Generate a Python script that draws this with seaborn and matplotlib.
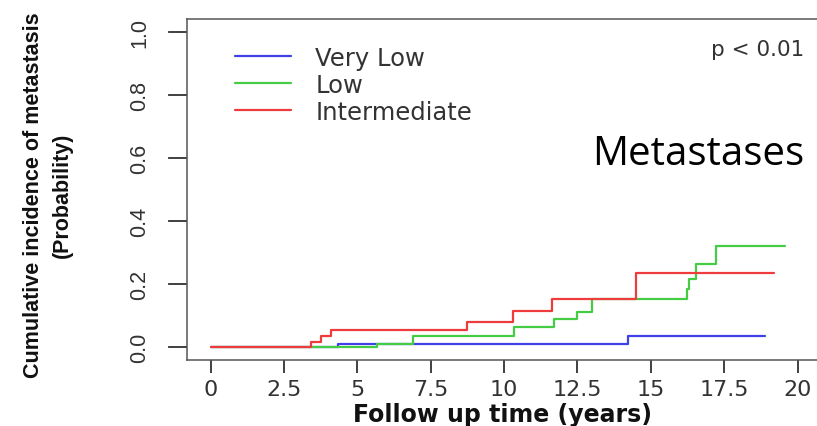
import numpy as np
import pandas as pd
import matplotlib
matplotlib.use("Agg")
import matplotlib.pyplot as plt
import seaborn as sns

# ---- data ----
groups = ["Very Low", "Low", "Intermediate"]
colors = ["#4040e8", "#44cc44", "#ee3b3b"]

very_low_time = [0, 4.34, 14.23, 18.89]
very_low_prob = [0, 0.009, 0.034, 0.034]

low_time = [0, 5.68, 6.90, 10.34, 11.69, 12.47, 12.98, 16.22, 16.30, 16.54, 17.22, 19.57]
low_prob = [0, 0.009, 0.034, 0.065, 0.089, 0.110, 0.152, 0.184, 0.215, 0.263, 0.319, 0.319]

inter_time = [0, 3.40, 3.75, 4.11, 8.72, 10.31, 11.64, 14.48, 19.20]
inter_prob = [0, 0.017, 0.036, 0.055, 0.080, 0.115, 0.154, 0.235, 0.235]

x_ticks = [0, 2.5, 5, 7.5, 10, 12.5, 15, 17.5, 20]
x_tick_labels = ["0", "2.5", "5", "7.5", "10", "12.5", "15", "17.5", "20"]
y_ticks = [0.0, 0.2, 0.4, 0.6, 0.8, 1.0]
y_tick_labels = ["0.0", "0.2", "0.4", "0.6", "0.8", "1.0"]

x_label = "Follow up time (years)"
y_label = "Cumulative incidence of metastasis\n(Probability)"
p_text = "p < 0.01"
panel_text = "Metastases"

df = pd.concat([
    pd.DataFrame({"time": very_low_time, "prob": very_low_prob, "group": "Very Low"}),
    pd.DataFrame({"time": low_time, "prob": low_prob, "group": "Low"}),
    pd.DataFrame({"time": inter_time, "prob": inter_prob, "group": "Intermediate"}),
], ignore_index=True)

sns.set_style("ticks")
plt.rcParams["font.family"] = ["DejaVu Sans"]

W, H = 817, 427
fig = plt.figure(figsize=(W / 100, H / 100), dpi=100)
fig.patch.set_facecolor("white")
ax_w_px, ax_h_px = 633.7, 340.7
ax = fig.add_axes([187.3 / W, (H - 360.7) / H, ax_w_px / W, ax_h_px / H])

sns.lineplot(data=df, x="time", y="prob", hue="group", hue_order=groups,
             palette=colors, drawstyle="steps-post", estimator=None,
             linewidth=1.6, ax=ax, legend=True)

ax.set_xlim(-0.8, 20.8)
ax.set_ylim(-0.04, 1.04)

ax.set_xticks(x_ticks)
ax.set_xticklabels(x_tick_labels, fontsize=16, color="#333333")
ax.set_yticks(y_ticks)
ax.set_yticklabels(y_tick_labels, fontsize=15.5, color="#333333",
                   family="Liberation Sans", rotation=90, va="center")

x_len_pt, y_len_pt = 9.4, 13.5
ax.tick_params(axis="x", which="major", direction="out", length=x_len_pt, width=1.3,
               color="#444444", pad=4.5, bottom=True, top=False)
ax.tick_params(axis="y", which="major", direction="out", length=y_len_pt, width=1.3,
               color="#444444", pad=13, left=True, right=False)

# explicit outward tick marks along the axes (same positions as the ticks)
ax.vlines(x_ticks, -x_len_pt * 100 / 72 / ax_h_px, 0,
          transform=ax.get_xaxis_transform(), clip_on=False,
          color="#444444", linewidth=1.3)
ax.hlines(y_ticks, -y_len_pt * 100 / 72 / ax_w_px, 0,
          transform=ax.get_yaxis_transform(), clip_on=False,
          color="#444444", linewidth=1.3)

for s in ax.spines.values():
    s.set_visible(True)
    s.set_color("#555555")
    s.set_linewidth(1.1)

ax.set_xlabel(x_label, fontsize=17, fontweight="bold", color="#111111")
ax.xaxis.label.set_va("center")
ax.xaxis.set_label_coords(0.498, (360.7 - 415) / ax_h_px)

ax.set_ylabel(y_label, fontsize=15.5, fontweight="bold", color="#111111",
              family="Liberation Sans", linespacing=1.5)
ax.yaxis.label.set_va("center")
ax.yaxis.set_label_coords((48 - 187.3) / ax_w_px, (360.7 - 195) / ax_h_px)

handles, labels = ax.get_legend_handles_labels()
leg = ax.legend(handles, labels, loc="upper left",
                bbox_to_anchor=(235 / W, 1 - 47 / H),
                bbox_transform=fig.transFigure, frameon=False,
                borderpad=0, borderaxespad=0, fontsize=17.5,
                handlelength=2.3, handletextpad=1.0, labelspacing=0.12)
for t in leg.get_texts():
    t.set_color("#333333")
for l in leg.get_lines():
    l.set_linewidth(1.6)

fig.text(804 / W, 1 - 50 / H, p_text, ha="right", va="center",
         fontsize=15.5, color="#333333")
fig.text(592 / W, 1 - 155 / H, panel_text, ha="left", va="center",
         fontsize=29, color="black", family="Open Sans")

fig.savefig("out.png", dpi=100)
